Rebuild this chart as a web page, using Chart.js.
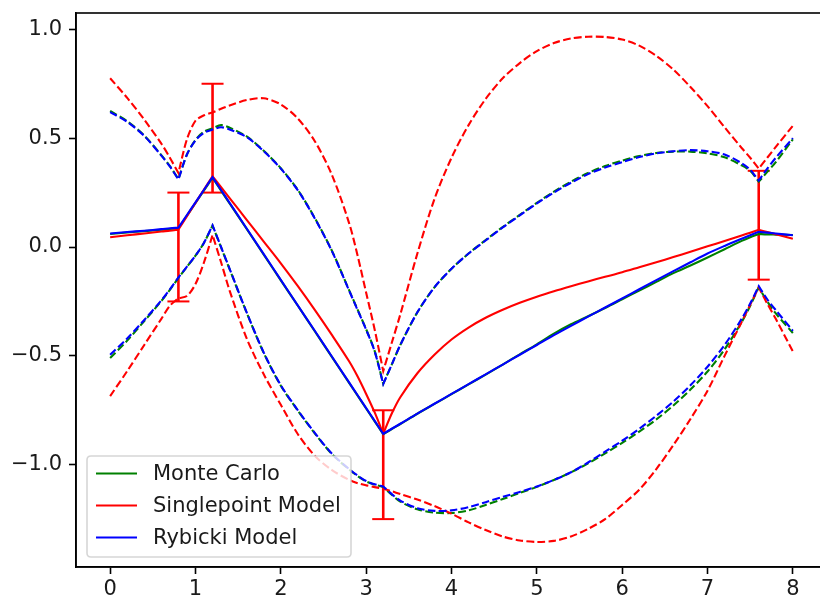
<!DOCTYPE html>
<html>
<head>
<meta charset="utf-8">
<script src="https://cdn.jsdelivr.net/npm/chart.js@4.4.1/dist/chart.umd.min.js"></script>
<style>
  html, body { margin:0; padding:0; background:#fff; overflow:hidden; }
  #wrap { width:820px; height:601px; overflow:hidden; }
  canvas { display:block; }
</style>
</head>
<body>
<div id="wrap"><canvas id="chart" width="840" height="601"></canvas></div>
<script>
// ----- Data -----
const xs = [0, 0.2, 0.4, 0.6, 0.7, 0.8, 0.9, 1.0, 1.1, 1.2,
            1.3, 1.4, 1.6, 1.8, 2.0, 2.2, 2.4, 2.6, 2.8, 2.9,
            3.0, 3.1, 3.2, 3.3, 3.4, 3.6, 3.8, 4.0, 4.2, 4.4,
            4.6, 4.8, 5.0, 5.2, 5.4, 5.6, 5.8, 6.0, 6.2, 6.4,
            6.6, 6.8, 7.0, 7.2, 7.4, 7.5, 7.6, 7.7, 7.8, 8.0];

// Monte Carlo
const mcMean = [0.060, 0.067, 0.073, 0.079, 0.083, 0.086, 0.144, 0.202, 0.260, 0.318,
                0.259, 0.200, 0.083, -0.035, -0.153, -0.270, -0.388, -0.506, -0.624, -0.683,
                -0.742, -0.801, -0.860, -0.836, -0.813, -0.766, -0.721, -0.676, -0.631, -0.586,
                -0.540, -0.493, -0.447, -0.398, -0.355, -0.318, -0.280, -0.240, -0.200, -0.160,
                -0.120, -0.085, -0.048, -0.010, 0.028, 0.045, 0.060, 0.058, 0.057, 0.055];
const mcUpper = [0.625, 0.578, 0.512, 0.422, 0.372, 0.312, 0.425, 0.492, 0.530, 0.545,
                 0.560, 0.548, 0.508, 0.442, 0.362, 0.262, 0.132, -0.018, -0.198, -0.288,
                 -0.378, -0.478, -0.628, -0.540, -0.450, -0.300, -0.185, -0.100, -0.030, 0.032,
                 0.092, 0.148, 0.203, 0.254, 0.300, 0.340, 0.372, 0.397, 0.418, 0.432,
                 0.438, 0.438, 0.430, 0.412, 0.375, 0.350, 0.300, 0.345, 0.390, 0.495];
const mcLower = [-0.510, -0.430, -0.340, -0.248, -0.197, -0.142, -0.091, -0.040, 0.020, 0.098,
                 -0.002, -0.102, -0.302, -0.487, -0.637, -0.752, -0.857, -0.952, -1.022, -1.052,
                 -1.077, -1.092, -1.102, -1.138, -1.170, -1.205, -1.220, -1.222, -1.210, -1.185,
                 -1.158, -1.130, -1.102, -1.070, -1.035, -0.994, -0.948, -0.900, -0.848, -0.792,
                 -0.728, -0.655, -0.572, -0.470, -0.345, -0.270, -0.185, -0.250, -0.305, -0.395];

// Singlepoint Model
const spMean = [0.045, 0.054, 0.062, 0.071, 0.075, 0.080, 0.142, 0.203, 0.264, 0.325,
                0.275, 0.225, 0.125, 0.025, -0.075, -0.180, -0.290, -0.405, -0.525, -0.595,
                -0.675, -0.760, -0.858, -0.765, -0.690, -0.580, -0.495, -0.425, -0.370, -0.325,
                -0.288, -0.256, -0.228, -0.203, -0.180, -0.158, -0.137, -0.116, -0.093, -0.070,
                -0.046, -0.022, 0.003, 0.028, 0.053, 0.066, 0.079, 0.069, 0.059, 0.038];
const spUpper = [0.775, 0.685, 0.585, 0.475, 0.410, 0.340, 0.495, 0.580, 0.605, 0.618,
                 0.635, 0.650, 0.675, 0.683, 0.655, 0.590, 0.485, 0.330, 0.110, -0.040,
                 -0.210, -0.380, -0.570, -0.440, -0.310, -0.030, 0.220, 0.410, 0.560, 0.680,
                 0.775, 0.845, 0.900, 0.937, 0.958, 0.966, 0.965, 0.953, 0.925, 0.878,
                 0.815, 0.735, 0.647, 0.550, 0.455, 0.410, 0.360, 0.410, 0.460, 0.557];
const spLower = [-0.685, -0.570, -0.450, -0.330, -0.270, -0.235, -0.225, -0.170, -0.070, 0.055,
                 -0.070, -0.200, -0.420, -0.585, -0.725, -0.860, -0.960, -1.025, -1.070, -1.085,
                 -1.095, -1.103, -1.110, -1.122, -1.135, -1.160, -1.190, -1.225, -1.265, -1.300,
                 -1.330, -1.348, -1.355, -1.350, -1.330, -1.295, -1.250, -1.185, -1.115, -1.020,
                 -0.910, -0.790, -0.660, -0.500, -0.345, -0.265, -0.185, -0.260, -0.330, -0.480];

// Rybicki Model
const rbMean = [0.062, 0.069, 0.075, 0.082, 0.086, 0.089, 0.147, 0.205, 0.263, 0.321,
                0.262, 0.203, 0.085, -0.033, -0.151, -0.269, -0.386, -0.504, -0.622, -0.681,
                -0.740, -0.799, -0.858, -0.835, -0.812, -0.765, -0.720, -0.675, -0.630, -0.585,
                -0.540, -0.495, -0.450, -0.405, -0.362, -0.320, -0.278, -0.236, -0.194, -0.152,
                -0.111, -0.070, -0.030, 0.005, 0.038, 0.054, 0.070, 0.066, 0.062, 0.054];
const rbUpper = [0.620, 0.575, 0.510, 0.420, 0.370, 0.310, 0.425, 0.490, 0.525, 0.540,
                 0.550, 0.540, 0.505, 0.440, 0.360, 0.260, 0.130, -0.020, -0.200, -0.290,
                 -0.380, -0.480, -0.630, -0.540, -0.450, -0.300, -0.185, -0.100, -0.030, 0.030,
                 0.090, 0.145, 0.200, 0.250, 0.295, 0.335, 0.365, 0.390, 0.413, 0.430,
                 0.440, 0.445, 0.440, 0.425, 0.385, 0.355, 0.305, 0.360, 0.410, 0.500];
const rbLower = [-0.495, -0.420, -0.335, -0.245, -0.195, -0.140, -0.090, -0.040, 0.020, 0.100,
                 0.000, -0.100, -0.300, -0.485, -0.635, -0.750, -0.855, -0.950, -1.020, -1.050,
                 -1.075, -1.090, -1.100, -1.135, -1.165, -1.200, -1.212, -1.210, -1.195, -1.172,
                 -1.148, -1.125, -1.100, -1.070, -1.035, -0.990, -0.940, -0.890, -0.835, -0.775,
                 -0.710, -0.635, -0.550, -0.450, -0.330, -0.260, -0.180, -0.240, -0.290, -0.385];

// Measured points with error bars
const errX = [0.8, 1.2, 3.2, 7.6];
const errY = [0.0, 0.5, -1.0, 0.1];
const errSize = [0.25, 0.25, 0.25, 0.25];

const xTicks = [0, 1, 2, 3, 4, 5, 6, 7, 8];
const yTicks = [-1.0, -0.5, 0.0, 0.5, 1.0];
const legendLabels = ['Monte Carlo', 'Singlepoint Model', 'Rybicki Model'];

// ----- Build datasets -----
const GREEN = '#008000', RED = '#ff0000', BLUE = '#0000ff';
const FONT = 'DejaVu Sans';

// points at the measured x positions are doubled so the smoothed line keeps its kink there
function pts(ys) {
  var out = [];
  xs.forEach((x, i) => {
    out.push({ x: x, y: ys[i] });
    if (errX.indexOf(x) >= 0) out.push({ x: x, y: ys[i] });
  });
  return out;
}

function line(label, ys, color, dashed, order) {
  return {
    label: label,
    data: pts(ys),
    borderColor: color,
    borderWidth: 2.1,
    borderDash: dashed ? [7.7, 3.3] : [],
    pointRadius: 0,
    tension: 0.3,
    fill: false,
    order: order
  };
}

var datasets = [
  line(legendLabels[2], rbMean, BLUE, false, 1),
  line('', rbUpper, BLUE, true, 1),
  line('', rbLower, BLUE, true, 1),
  line(legendLabels[1], spMean, RED, false, 2),
  line('', spUpper, RED, true, 2),
  line('', spLower, RED, true, 2),
  line(legendLabels[0], mcMean, GREEN, false, 3),
  line('', mcUpper, GREEN, true, 3),
  line('', mcLower, GREEN, true, 3)
];

// error bars: a vertical segment per point, caps drawn as 'line' point markers
errX.forEach((x, i) => {
  datasets.push({
    label: '',
    data: [{ x: x, y: errY[i] - errSize[i] }, { x: x, y: errY[i] + errSize[i] }],
    borderColor: RED,
    borderWidth: 2.6,
    pointStyle: 'line',
    pointRadius: 11,
    pointBorderWidth: 2,
    pointBorderColor: RED,
    pointBackgroundColor: RED,
    tension: 0,
    order: 4
  });
});

// ----- Plugins: axes frame + legend box inside the plot -----
const framePlugin = {
  id: 'frame',
  afterDatasetsDraw(chart) {
    const a = chart.chartArea, c = chart.ctx;
    c.save();
    c.strokeStyle = '#000';
    c.lineWidth = 1.6;
    c.strokeRect(a.left, a.top, a.right - a.left, a.bottom - a.top);
    c.restore();
  }
};

const legendPlugin = {
  id: 'boxLegend',
  afterDatasetsDraw(chart) {
    const c = chart.ctx;
    const bx = 87, by = 456, bw = 264, bh = 101, r = 4;
    c.save();
    c.beginPath();
    c.moveTo(bx + r, by);
    c.lineTo(bx + bw - r, by);
    c.quadraticCurveTo(bx + bw, by, bx + bw, by + r);
    c.lineTo(bx + bw, by + bh - r);
    c.quadraticCurveTo(bx + bw, by + bh, bx + bw - r, by + bh);
    c.lineTo(bx + r, by + bh);
    c.quadraticCurveTo(bx, by + bh, bx, by + bh - r);
    c.lineTo(bx, by + r);
    c.quadraticCurveTo(bx, by, bx + r, by);
    c.closePath();
    c.fillStyle = 'rgba(255,255,255,0.8)';
    c.fill();
    c.strokeStyle = 'rgba(204,204,204,0.8)';
    c.lineWidth = 1.6;
    c.stroke();

    const colors = [GREEN, RED, BLUE];
    const base = [480, 512, 544];
    c.font = '21px "' + FONT + '"';
    c.textBaseline = 'alphabetic';
    c.textAlign = 'left';
    legendLabels.forEach((t, i) => {
      const ly = base[i] - 6.5;
      c.beginPath();
      c.moveTo(96, ly);
      c.lineTo(137, ly);
      c.strokeStyle = colors[i];
      c.lineWidth = 2.1;
      c.stroke();
      c.fillStyle = '#1a1a1a';
      c.fillText(t, 153, base[i]);
    });
    c.restore();
  }
};

function fmt(v) {
  return (v < 0 ? '\u2212' : '') + Math.abs(v).toFixed(1);
}

// ----- Chart -----
var ctx = document.getElementById('chart').getContext('2d');
new Chart(ctx, {
  type: 'line',
  data: { datasets: datasets },
  options: {
    responsive: false,
    animation: false,
    devicePixelRatio: 1,
    layout: { padding: { top: 9, right: 12, left: 0, bottom: 0 } },
    plugins: { legend: { display: false }, tooltip: { enabled: false } },
    scales: {
      x: {
        type: 'linear',
        min: -0.4,
        max: 8.4,
        afterBuildTicks: s => { s.ticks = xTicks.map(v => ({ value: v })); },
        afterFit: s => { s.height = 34; s.paddingLeft = 0; s.paddingRight = 0; },
        ticks: {
          font: { family: FONT, size: 21 },
          color: '#1a1a1a',
          padding: 3,
          maxRotation: 0,
          autoSkip: false,
          callback: v => String(v)
        },
        grid: { drawOnChartArea: false, drawTicks: true, tickLength: 7, tickWidth: 1.6, color: '#000' },
        border: { display: true, color: '#000', width: 1.6 }
      },
      y: {
        type: 'linear',
        min: -1.47,
        max: 1.075,
        afterBuildTicks: s => { s.ticks = yTicks.map(v => ({ value: v })); },
        afterFit: s => { s.width = 76; s.paddingTop = 0; s.paddingBottom = 0; },
        ticks: {
          font: { family: FONT, size: 21 },
          color: '#1a1a1a',
          padding: 7,
          autoSkip: false,
          callback: v => fmt(v)
        },
        grid: { drawOnChartArea: false, drawTicks: true, tickLength: 7, tickWidth: 1.6, color: '#000' },
        border: { display: true, color: '#000', width: 1.6 }
      }
    }
  },
  plugins: [framePlugin, legendPlugin]
});
</script>
</body>
</html>
